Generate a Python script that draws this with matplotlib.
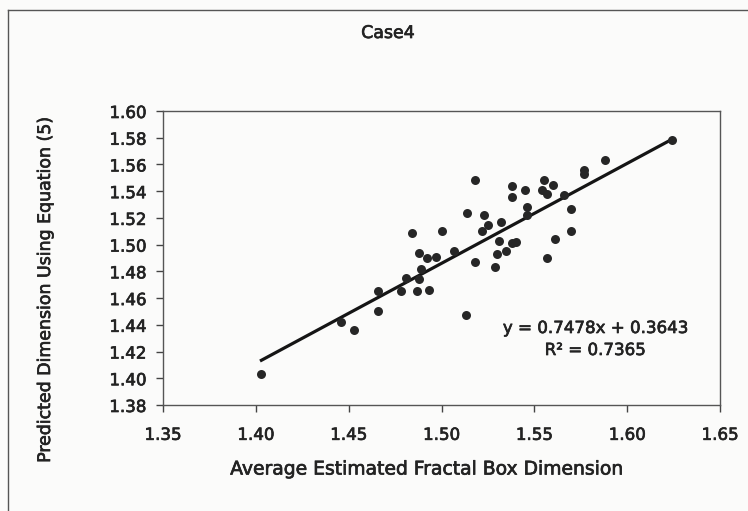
import matplotlib

matplotlib.use("Agg")
import matplotlib.pyplot as plt
import matplotlib.patheffects as pe
from matplotlib.lines import Line2D
import numpy as np

plt.rcParams["font.family"] = ["DejaVu Sans"]

# Average estimated fractal box dimension vs dimension predicted by equation (5)
avg_box_dim = [
    1.403, 1.446, 1.453, 1.466, 1.466, 1.478, 1.487, 1.493, 1.481, 1.488,
    1.489, 1.488, 1.492, 1.497, 1.507, 1.518, 1.484, 1.500, 1.514, 1.523,
    1.522, 1.513, 1.518, 1.525, 1.532, 1.538, 1.538, 1.545, 1.555, 1.554,
    1.560, 1.557, 1.546, 1.546, 1.566, 1.570, 1.570, 1.561, 1.557, 1.531,
    1.538, 1.540, 1.530, 1.535, 1.529, 1.588, 1.577, 1.577, 1.624,
]
predicted_dim = [
    1.403, 1.442, 1.436, 1.450, 1.465, 1.465, 1.465, 1.466, 1.475, 1.474,
    1.482, 1.494, 1.490, 1.491, 1.495, 1.487, 1.509, 1.510, 1.524, 1.522,
    1.510, 1.447, 1.548, 1.515, 1.517, 1.544, 1.536, 1.541, 1.548, 1.541,
    1.545, 1.538, 1.528, 1.522, 1.537, 1.527, 1.510, 1.504, 1.490, 1.503,
    1.501, 1.502, 1.493, 1.495, 1.483, 1.563, 1.556, 1.553, 1.578,
]

# trendline reported on the chart
slope = 0.7478
intercept = 0.3643
r_squared = 0.7365

x_ticks = [1.35, 1.40, 1.45, 1.50, 1.55, 1.60, 1.65]
y_ticks = [1.38, 1.40, 1.42, 1.44, 1.46, 1.48, 1.50, 1.52, 1.54, 1.56, 1.58, 1.60]

ink = "#232323"
bold_fx = [pe.withStroke(linewidth=0.5, foreground=ink)]

fig = plt.figure(figsize=(7.48, 5.11), dpi=100)
fig.patch.set_facecolor("#fbfbfa")

# chart-area border (cut by the scan on the right and bottom)
fig.add_artist(Line2D([8 / 748, 8 / 748], [0, 1 - 10 / 511], transform=fig.transFigure,
                      color="#555555", lw=1.0))
fig.add_artist(Line2D([8 / 748, 1], [1 - 10 / 511, 1 - 10 / 511], transform=fig.transFigure,
                      color="#555555", lw=1.0))

ax = fig.add_axes([163 / 748, 1 - 405 / 511, 557 / 748, 294 / 511])
ax.set_facecolor("#fbfbfa")

ax.scatter(avg_box_dim, predicted_dim, s=42, color="#262626", zorder=3, linewidths=0)

xs = np.array([min(avg_box_dim), max(avg_box_dim)])
ax.plot(xs, slope * xs + intercept, color="#151515", lw=2.3, zorder=2)

ax.set_xlim(x_ticks[0], x_ticks[-1])
ax.set_ylim(y_ticks[0], y_ticks[-1])
ax.set_xticks(x_ticks)
ax.set_yticks(y_ticks)
ax.set_xticklabels([f"{v:.2f}" for v in x_ticks])
ax.set_yticklabels([f"{v:.2f}" for v in y_ticks])
ax.tick_params(axis="both", direction="out", length=5, width=1, color="#444444",
               labelsize=12, labelcolor=ink)
ax.tick_params(axis="x", pad=10)
ax.tick_params(axis="y", pad=7)
for lab in ax.get_xticklabels() + ax.get_yticklabels():
    lab.set_path_effects(bold_fx)
for sp in ax.spines.values():
    sp.set_color("#555555")
    sp.set_linewidth(1.0)

ax.text(595 / 748, 1 - 328 / 511, f"y = {slope:.4f}x + {intercept:.4f}",
        transform=fig.transFigure, ha="center", va="center", fontsize=12, color=ink,
        path_effects=bold_fx)
ax.text(595 / 748, 1 - 350 / 511, f"R\u00b2 = {r_squared:.4f}",
        transform=fig.transFigure, ha="center", va="center", fontsize=12, color=ink,
        path_effects=bold_fx)

fig.text(388 / 748, 1 - 33 / 511, "Case4", ha="center", va="center",
         fontsize=12.5, color=ink, path_effects=bold_fx)
fig.text(427 / 748, 1 - 469 / 511, "Average Estimated Fractal Box Dimension",
         ha="center", va="center", fontsize=13.5, color=ink, path_effects=bold_fx)
fig.text(45 / 748, 1 - 289 / 511, "Predicted Dimension Using Equation (5)",
         ha="center", va="center", rotation=90, fontsize=12.5, color=ink,
         path_effects=bold_fx)

fig.savefig("out.png", dpi=100, facecolor=fig.get_facecolor())
